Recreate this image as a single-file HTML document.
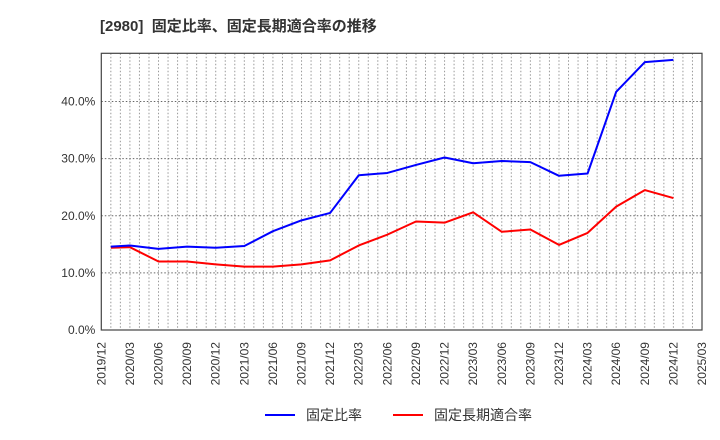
<!DOCTYPE html>
<html><head><meta charset="utf-8"><style>
body{margin:0;background:#fff;font-family:"Liberation Sans","Noto Sans CJK JP",sans-serif;}
svg{display:block}
</style></head><body>
<svg id="chart" width="720" height="440" xmlns="http://www.w3.org/2000/svg">
<text x="100" y="31" font-size="15" font-weight="bold" fill="#333" font-family="Liberation Sans, Noto Sans CJK JP, sans-serif" xml:space="preserve">[2980]  固定比率、固定長期適合率の推移</text>
<g id="grid"></g><g id="axes"></g><g id="series"></g>
<g>
<line x1="265" y1="415" x2="295" y2="415" stroke="#0000ff" stroke-width="2"/>
<text x="306" y="420" font-size="14" fill="#333">固定比率</text>
<line x1="393" y1="415" x2="423" y2="415" stroke="#ff0000" stroke-width="2"/>
<text x="434" y="420" font-size="14" fill="#333">固定長期適合率</text>
</g>
</svg>
<script>
const monthIdx=[1,3,6,9,12,15,18,21,24,27,30,33,36,39,42,45,48,51,54,57,60];
const fixedRatio=[14.6,14.8,14.2,14.6,14.4,14.7,17.3,19.2,20.5,27.1,27.5,28.9,30.2,29.2,29.6,29.4,27.0,27.4,41.7,46.9,47.3];
const longTermRatio=[14.4,14.5,12.0,12.0,11.5,11.1,11.1,11.5,12.2,14.8,16.7,19.0,18.8,20.6,17.2,17.6,14.9,17.0,21.6,24.5,23.1];
const yTicks=[0,10,20,30,40];
const xLabels=["2019/12","2020/03","2020/06","2020/09","2020/12","2021/03","2021/06","2021/09","2021/12","2022/03","2022/06","2022/09","2022/12","2023/03","2023/06","2023/09","2023/12","2024/03","2024/06","2024/09","2024/12","2025/03"];
const L=101.3,R=702,T=53.3,B=330,MMAX=63,YMAX=48.45;
const NS="http://www.w3.org/2000/svg";
function xs(m){return L+(R-L)*m/MMAX;}
function ys(v){return B-(B-T)*v/YMAX;}
function mk(tag,attrs,parent){const e=document.createElementNS(NS,tag);for(const k in attrs)e.setAttribute(k,attrs[k]);parent.appendChild(e);return e;}
const grid=document.getElementById('grid'),axes=document.getElementById('axes'),ser=document.getElementById('series');
for(let m=1;m<MMAX;m++){
 const l=mk('line',{x1:xs(m),x2:xs(m),y1:T,y2:B,stroke:'#999','stroke-width':1,'stroke-dasharray':'1.5,2'},grid);
 
 
}
yTicks.forEach(v=>{
 if(v>0){const g=mk('line',{x1:L,x2:R,y1:ys(v),y2:ys(v),stroke:'#666','stroke-width':1,'stroke-dasharray':'1.5,2'},grid);
 
 }
 const t=mk('text',{x:L-6,y:ys(v)+4,'font-size':12,'text-anchor':'end',fill:'#333'},axes);
 t.textContent=v.toFixed(1)+'%';
 
 
});
xLabels.forEach((s,i)=>{
 const x=xs(i*3);
 const t=mk('text',{x:0,y:0,'font-size':12,'text-anchor':'end',fill:'#333',transform:`translate(${x+4},342) rotate(-90)`},axes);
 t.textContent=s;
 
 
});
const fr=mk('rect',{x:L,y:T,width:R-L,height:B-T,fill:'none',stroke:'#444','stroke-width':1.2},axes);


function line(vals,color,name){
 const p=mk('polyline',{points:vals.map((v,i)=>xs(monthIdx[i])+','+ys(v)).join(' '),fill:'none',stroke:color,'stroke-width':2,'stroke-linejoin':'round'},ser);
 
 
}
line(longTermRatio,'#ff0000','long-term-ratio-line');
line(fixedRatio,'#0000ff','fixed-ratio-line');
</script>
</body></html>
